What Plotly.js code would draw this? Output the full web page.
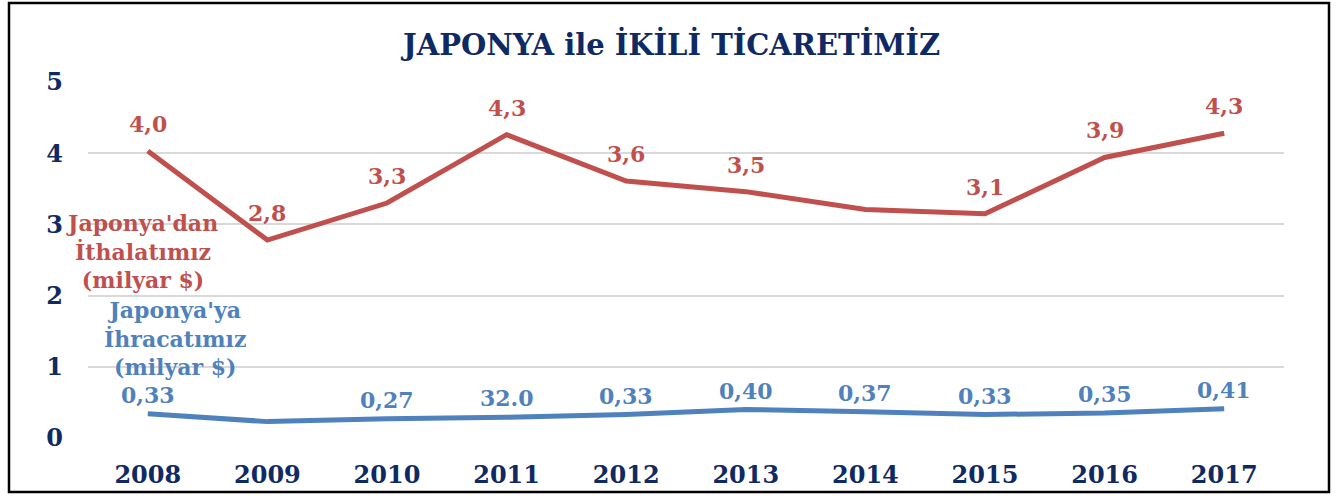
<!DOCTYPE html>
<html><head><meta charset="utf-8">
<script src="https://cdn.plot.ly/plotly-3.0.1.min.js"></script>
<style>html,body{margin:0;padding:0;background:#fff;}#chart{width:1343px;height:498px;}</style>
</head><body><div id="chart"></div>
<script>
const years = ['2008','2009','2010','2011','2012','2013','2014','2015','2016','2017'];
const imports = [4.03, 2.78, 3.30, 4.26, 3.61, 3.46, 3.21, 3.15, 3.94, 4.28];
const importLabels = ['4,0','2,8','3,3','4,3','3,6','3,5','','3,1','3,9','4,3'];
const exports_ = [0.34, 0.23, 0.27, 0.29, 0.33, 0.40, 0.37, 0.33, 0.35, 0.41];
const exportLabels = ['0,33','','0,27','32.0','0,33','0,40','0,37','0,33','0,35','0,41'];
const yTicks = [0,1,2,3,4,5];

const RED = '#C0504D', BLUE = '#4F81BD', NAVY = '#0f2a63';
const FONT = 'DejaVu Serif';

const traces = [
  {x: years, y: imports, type: 'scatter', mode: 'lines', name: "Japonya'dan İthalatımız (milyar $)",
   line: {color: RED, width: 5}, hoverinfo: 'skip'},
  {x: years, y: exports_, type: 'scatter', mode: 'lines', name: "Japonya'ya İhracatımız (milyar $)",
   line: {color: BLUE, width: 5}, hoverinfo: 'skip'}
];

const annotations = [];
years.forEach((yr, i) => {
  if (importLabels[i]) annotations.push({x: i, y: imports[i], text: importLabels[i], showarrow: false,
    yshift: 27, font: {family: FONT, size: 22, color: RED, weight: 'bold'}});
  if (exportLabels[i]) annotations.push({x: i, y: exports_[i], text: exportLabels[i], showarrow: false,
    yshift: 19, font: {family: FONT, size: 22, color: BLUE, weight: 'bold'}});
});
annotations.push({xref: 'paper', yref: 'paper', x: (142-88)/1196, y: (438-251)/356, xanchor: 'center', yanchor: 'middle',
  text: "Japonya'dan<br>İthalatımız<br>(milyar $)", showarrow: false, align: 'center',
  font: {family: FONT, size: 22, color: RED, weight: 'bold'}});
annotations.push({xref: 'paper', yref: 'paper', x: (175-88)/1196, y: (438-338)/356, xanchor: 'center', yanchor: 'middle',
  text: "Japonya'ya<br>İhracatımız<br>(milyar $)", showarrow: false, align: 'center',
  font: {family: FONT, size: 22, color: BLUE, weight: 'bold'}});

const layout = {
  width: 1343, height: 498,
  margin: {l: 88, r: 59, t: 82, b: 60},
  paper_bgcolor: '#fff', plot_bgcolor: '#fff',
  showlegend: false,
  title: {text: 'JAPONYA ile İKİLİ TİCARETİMİZ', x: 0.5, xanchor: 'center', y: 1 - 45/498, yanchor: 'middle',
    font: {family: FONT, size: 29, color: NAVY, weight: 'bold'}},
  xaxis: {type: 'category', range: [-0.5, 9.5], showgrid: false, zeroline: false, showline: false,
    ticks: '', ticklabelstandoff: 20, tickfont: {family: FONT, size: 24, color: NAVY, weight: 'bold'}},
  yaxis: {range: [0, 5], tickvals: yTicks, ticktext: yTicks.map(String), showgrid: true, gridcolor: '#d9d9d9', gridwidth: 2,
    zeroline: false, showline: false, ticks: '', ticklabelstandoff: 24,
    tickfont: {family: FONT, size: 24, color: NAVY, weight: 'bold'}},
  annotations: annotations,
  shapes: [{type: 'rect', xref: 'paper', yref: 'paper', x0: (9-88)/1196, x1: (1329-88)/1196, y0: (438-492)/356, y1: (438-3)/356,
    line: {color: '#000', width: 2.5}, fillcolor: 'rgba(0,0,0,0)', layer: 'above'}]
};
Plotly.newPlot('chart', traces, layout, {displayModeBar: false, staticPlot: true});
</script></body></html>
